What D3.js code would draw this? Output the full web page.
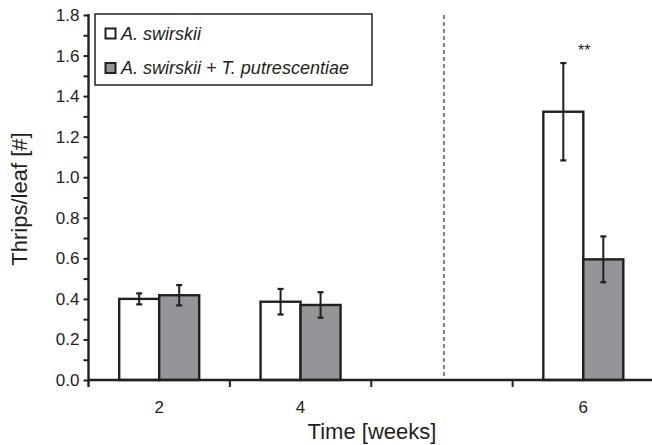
<!DOCTYPE html>
<html><head><meta charset="utf-8">
<script src="https://cdn.jsdelivr.net/npm/d3@7/dist/d3.min.js"></script>
<style>
body{margin:0;background:#fff}
svg{display:block;font-family:"Liberation Sans",Arial,Helvetica,sans-serif}
</style></head>
<body>
<script>
// ---- data ----
const categories = ["2", "4", "6"];           // time in weeks
const slots = ["2", "4", "gap", "6"];         // x slots (one empty slot before week 6)
const seriesNames = ["A. swirskii", "A. swirskii + T. putrescentiae"];
const meanA = [0.400, 0.386, 1.323];
const errA  = [0.027, 0.063, 0.240];
const meanB = [0.418, 0.370, 0.595];
const errB  = [0.050, 0.063, 0.113];
const significance = ["", "", "**"];
const yMajorTicks = [0, 0.2, 0.4, 0.6, 0.8, 1.0, 1.2, 1.4, 1.6, 1.8];
const yMinorTicks = [0.1, 0.3, 0.5, 0.7, 0.9, 1.1, 1.3, 1.5, 1.7];
const seriesFill = ["#ffffff", "#939598"];

// ---- layout ----
const W = 652, H = 445;
const ink = "#231f20";
const svg = d3.select("body").append("svg").attr("width", W).attr("height", H);

const x = d3.scaleBand().domain(slots).range([88.5, 654]).padding(0);
const y = d3.scaleLinear().domain([0, 1.8]).range([380, 15]);
const x1 = d3.scaleBand().domain([0, 1]).range([0, 80]);

const rows = [];
categories.forEach((c, i) => {
  rows.push({cat: c, s: 0, m: meanA[i], e: errA[i]});
  rows.push({cat: c, s: 1, m: meanB[i], e: errB[i]});
});
const bx = d => x(d.cat) + x.bandwidth() / 2 - 40 + x1(d.s);

// dashed separator (centre of empty slot)
svg.append("line")
  .attr("x1", x("gap") + x.bandwidth() / 2 + 2).attr("x2", x("gap") + x.bandwidth() / 2 + 2)
  .attr("y1", y(1.8)).attr("y2", y(0))
  .attr("stroke", ink).attr("stroke-width", 1.1).attr("stroke-dasharray", "4,3");

// bars
svg.append("g").selectAll("rect").data(rows).join("rect")
  .attr("x", d => bx(d))
  .attr("y", d => y(d.m))
  .attr("width", x1.bandwidth())
  .attr("height", d => y(0) - y(d.m))
  .attr("fill", d => seriesFill[d.s])
  .attr("stroke", ink).attr("stroke-width", 2.4);

// error bars
const eg = svg.append("g").attr("stroke", ink);
rows.forEach(d => {
  const cx = bx(d) + x1.bandwidth() / 2;
  eg.append("line").attr("x1", cx).attr("x2", cx)
    .attr("y1", y(d.m - d.e)).attr("y2", y(d.m + d.e)).attr("stroke-width", 2);
  [d.m - d.e, d.m + d.e].forEach(v => {
    eg.append("line").attr("x1", cx - 3).attr("x2", cx + 3)
      .attr("y1", y(v)).attr("y2", y(v)).attr("stroke-width", 2.2);
  });
});

// significance markers
categories.forEach((c, i) => {
  if (!significance[i]) return;
  const top = Math.max(meanA[i] + errA[i], meanB[i] + errB[i]);
  svg.append("text")
    .attr("x", x(c) + x.bandwidth() / 2 + 1)
    .attr("y", y(top) - 7)
    .attr("text-anchor", "middle").attr("font-size", 16).attr("fill", ink)
    .text(significance[i]);
});

// y axis
const yAxisG = svg.append("g").attr("transform", "translate(88.5,0)");
yAxisG.append("g")
  .call(d3.axisLeft(y).tickValues(yMinorTicks).tickSize(5).tickFormat(""))
  .call(g => g.select(".domain").remove())
  .selectAll("line").attr("stroke", ink).attr("stroke-width", 2);
const yMaj = yAxisG.append("g")
  .call(d3.axisLeft(y).tickValues(yMajorTicks).tickSize(5).tickPadding(4).tickFormat(d3.format(".1f")));
yMaj.select(".domain").remove();
yMaj.selectAll("line").attr("stroke", ink).attr("stroke-width", 2);
yMaj.selectAll("text").attr("font-size", 17).attr("fill", ink)
  .attr("font-family", "'Liberation Sans',Arial,sans-serif");
yAxisG.append("line").attr("x1", 0).attr("x2", 0).attr("y1", y(1.8) - 1).attr("y2", 387)
  .attr("stroke", ink).attr("stroke-width", 2.4);

// x axis
const xg = svg.append("g").attr("transform", "translate(0,380)");
xg.append("line").attr("x1", 88.5).attr("x2", W).attr("y1", 0).attr("y2", 0)
  .attr("stroke", ink).attr("stroke-width", 2.6);
const xLab = xg.append("g")
  .call(d3.axisBottom(x).tickSize(0).tickPadding(21).tickFormat(d => d === "gap" ? "" : d));
xLab.select(".domain").remove();
xLab.selectAll("text").attr("font-size", 17).attr("fill", ink)
  .attr("font-family", "'Liberation Sans',Arial,sans-serif");
// boundary ticks between slots
xg.selectAll(".bt").data(slots.slice(1)).join("line")
  .attr("class", "bt")
  .attr("x1", d => x(d)).attr("x2", d => x(d))
  .attr("y1", 0).attr("y2", 7)
  .attr("stroke", ink).attr("stroke-width", 2);

// axis titles
svg.append("text").attr("x", 372).attr("y", 439)
  .attr("text-anchor", "middle").attr("font-size", 22).attr("fill", ink)
  .text("Time [weeks]");
svg.append("text").attr("transform", "translate(27,199) rotate(-90)")
  .attr("text-anchor", "middle").attr("font-size", 22).attr("fill", ink)
  .text("Thrips/leaf [#]");

// legend
const lg = svg.append("g");
lg.append("rect").attr("x", 95).attr("y", 14).attr("width", 277).attr("height", 71)
  .attr("fill", "#fff").attr("stroke", ink).attr("stroke-width", 1.5);
seriesNames.forEach((n, i) => {
  const cy = 33.5 + i * 34.5;
  lg.append("rect").attr("x", 105.5).attr("y", cy - 5).attr("width", 10).attr("height", 10)
    .attr("fill", seriesFill[i]).attr("stroke", ink).attr("stroke-width", 2);
  lg.append("text").attr("x", 121).attr("y", cy + 6)
    .attr("font-size", 18).attr("font-style", "italic").attr("fill", ink)
    .text(n);
});
</script>
</body></html>
